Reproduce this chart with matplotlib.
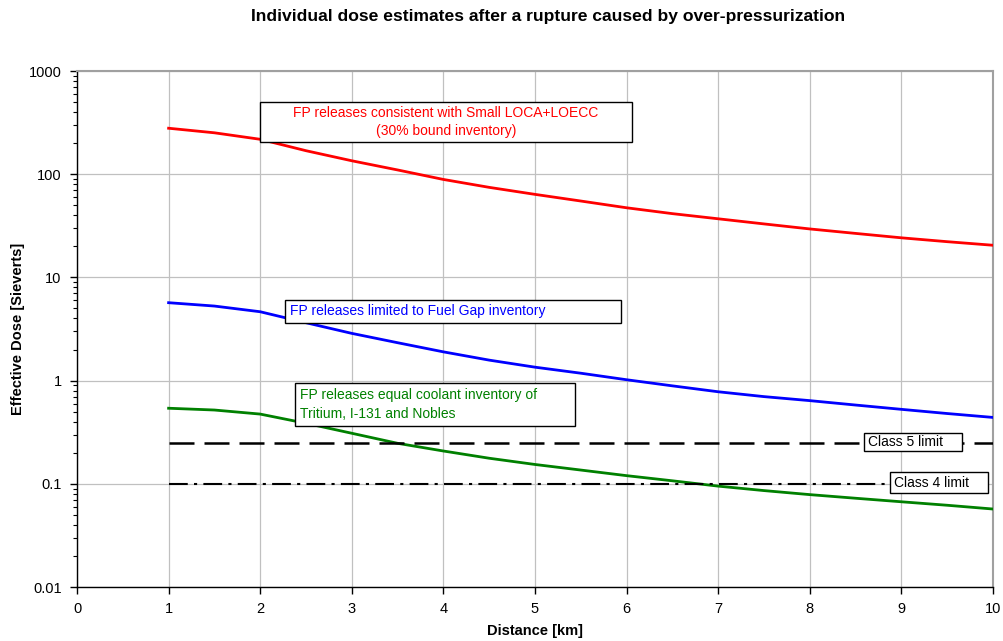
import matplotlib
matplotlib.use("Agg")
import matplotlib.pyplot as plt
import matplotlib.patches as patches
from matplotlib.ticker import FixedLocator, FixedFormatter, LogLocator, NullFormatter

plt.rcParams['font.family'] = ['Liberation Sans', 'DejaVu Sans']

# distance from the release point [km]
distance = [1, 1.5, 2, 2.5, 3, 3.5, 4, 4.5, 5, 5.5, 6, 6.5, 7, 7.5, 8, 8.5, 9, 9.5, 10]

# effective dose [Sv]
dose_small_loca = [279, 252, 218, 169, 135, 110, 89, 74.6, 63.8, 55, 47.3, 41.5, 37, 33, 29.5, 26.7, 24.2, 22.2, 20.5]
dose_fuel_gap = [5.69, 5.28, 4.65, 3.64, 2.87, 2.33, 1.90, 1.58, 1.35, 1.18, 1.02, 0.89, 0.78, 0.70, 0.64, 0.58, 0.527, 0.48, 0.44]
dose_coolant = [0.54, 0.519, 0.474, 0.386, 0.309, 0.247, 0.208, 0.177, 0.154, 0.136, 0.12, 0.107, 0.095, 0.086, 0.0786, 0.0725, 0.067, 0.062, 0.057]

# regulatory limits [Sv]
limit_range = [1, 10]
class5_limit = 0.25
class4_limit = 0.1

x_ticks = list(range(0, 11))
y_ticks = [0.01, 0.1, 1, 10, 100, 1000]
y_tick_labels = ["0.01", "0.1", "1", "10", "100", "1000"]

fig = plt.figure(figsize=(10.04, 6.41), dpi=100)
ax = fig.add_axes([0.0767, 0.0842, 0.9123, 0.8050])

ax.plot(distance, dose_small_loca, color='#ff0000', lw=2.0, zorder=3, solid_joinstyle='round')
ax.plot(distance, dose_fuel_gap, color='#0000ff', lw=2.0, zorder=3, solid_joinstyle='round')
ax.plot(distance, dose_coolant, color='#008000', lw=2.0, zorder=3, solid_joinstyle='round')

ax.plot(limit_range, [class5_limit] * 2, color='black', lw=1.8, dashes=(10, 4), zorder=3)
ax.plot(limit_range, [class4_limit] * 2, color='black', lw=1.5, dashes=(9, 3, 1.5, 3), zorder=3)

ax.set_yscale('log')
ax.set_xlim(0, 10)
ax.set_ylim(0.01, 1000)
ax.xaxis.set_major_locator(FixedLocator(x_ticks))
ax.yaxis.set_major_locator(FixedLocator(y_ticks))
ax.yaxis.set_major_formatter(FixedFormatter(y_tick_labels))
ax.yaxis.set_minor_locator(LogLocator(base=10, subs=range(2, 10)))
ax.yaxis.set_minor_formatter(NullFormatter())
ax.tick_params(axis='both', which='major', direction='out', length=5, width=1, labelsize=10.5, pad=6)
ax.tick_params(axis='y', which='minor', direction='out', length=3, width=0.8)

ax.grid(True, which='major', color='#c0c0c0', lw=0.9)
ax.set_axisbelow(True)
for side in ['top', 'right']:
    ax.spines[side].set_color('#a0a0a0')
    ax.spines[side].set_linewidth(1.5)
for side in ['left', 'bottom']:
    ax.spines[side].set_color('black')
    ax.spines[side].set_linewidth(1.0)

ax.set_xlabel('Distance [km]', fontsize=10.5, fontweight='bold')
ax.xaxis.set_label_coords(0.5, -0.072)
ax.set_ylabel('Effective Dose [Sieverts]', fontsize=10.5, fontweight='bold')
ax.yaxis.set_label_coords(-0.057, 0.5)
fig.text(0.546, 0.9735, 'Individual dose estimates after a rupture caused by over-pressurization',
         ha='center', va='center', fontsize=12.6, fontweight='bold')


def label_box(x0, y0, x1, y1, text, color, tx, ty, ha='left', fs=10):
    # framed label, coordinates in axes fraction
    rect = patches.Rectangle((x0, y0), x1 - x0, y1 - y0, transform=ax.transAxes,
                             facecolor='white', edgecolor='black', lw=1.0, zorder=4)
    ax.add_patch(rect)
    ax.text(tx, ty, text, transform=ax.transAxes, ha=ha, va='center', color=color,
            fontsize=fs, multialignment=ha, zorder=5, linespacing=1.45)


label_box(0.1998, 0.8624, 0.6059, 0.9399,
          'FP releases consistent with Small LOCA+LOECC\n(30% bound inventory)', '#ff0000',
          0.4028, 0.9012, ha='center')
label_box(0.2271, 0.5116, 0.5939, 0.5562,
          'FP releases limited to Fuel Gap inventory', '#0000ff', 0.2325, 0.5349)
label_box(0.2380, 0.3120, 0.5437, 0.3953,
          'FP releases equal coolant inventory of\nTritium, I-131 and Nobles', '#008000', 0.2435, 0.3537)
label_box(0.8592, 0.2636, 0.9662, 0.2984, 'Class 5 limit', 'black', 0.8635, 0.2810)
label_box(0.8876, 0.1822, 0.9945, 0.2229, 'Class 4 limit', 'black', 0.8920, 0.2025)

fig.savefig('out.png', dpi=100)
